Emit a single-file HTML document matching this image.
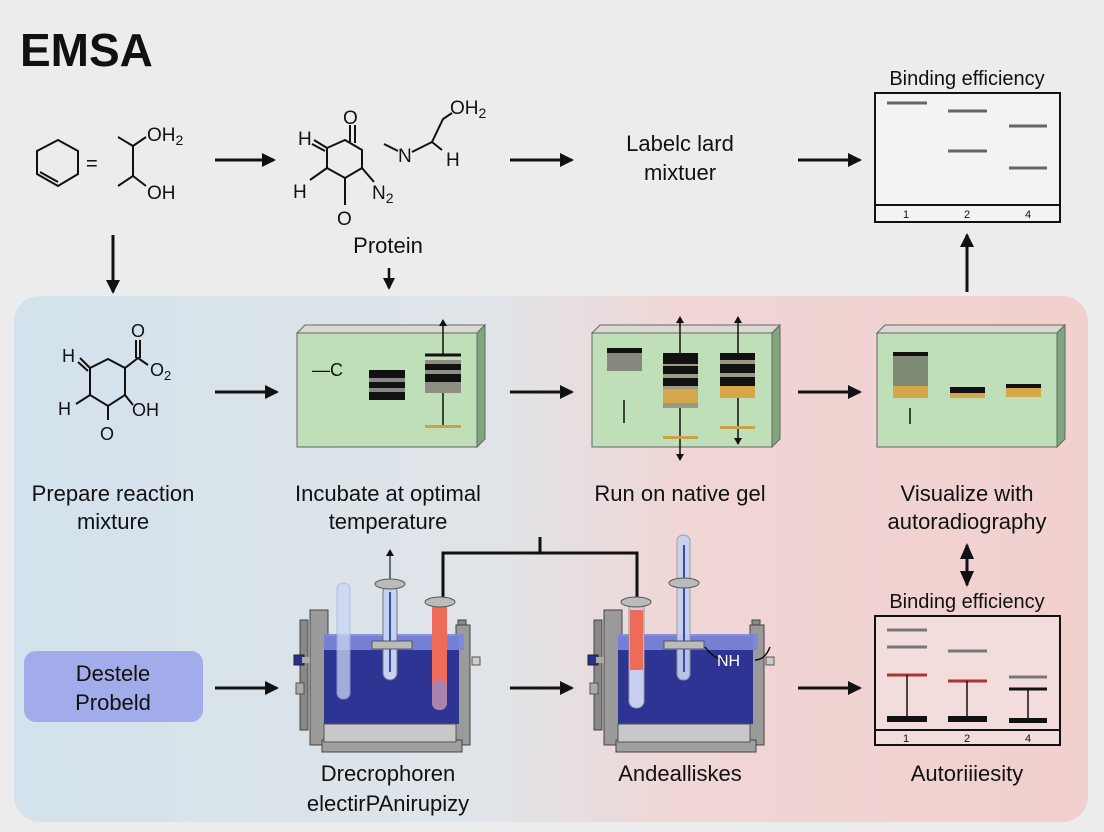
<!DOCTYPE html>
<html><head><meta charset="utf-8"><style>
html,body{margin:0;padding:0;background:#ececec;}
svg{display:block;}
text{font-family:"Liberation Sans Narrow","Liberation Sans",sans-serif;fill:#111;}
</style></head><body>
<svg width="1104" height="832" viewBox="0 0 1104 832" xmlns="http://www.w3.org/2000/svg">
<defs>
<linearGradient id="bg" x1="0" x2="1" y1="0" y2="0">
<stop offset="0" stop-color="#d3e2ec"/><stop offset="0.45" stop-color="#e0e4e8"/><stop offset="0.62" stop-color="#f0d6d5"/><stop offset="1" stop-color="#f1d0ce"/>
</linearGradient>
<marker id="ah" markerWidth="14" markerHeight="14" refX="12" refY="7" orient="auto" markerUnits="userSpaceOnUse"><path d="M0,0 L14,7 L0,14 z" fill="#111"/></marker>
<marker id="ahs" markerWidth="8" markerHeight="8" refX="6" refY="4" orient="auto" markerUnits="userSpaceOnUse"><path d="M0,0 L7,4 L0,8 z" fill="#111"/></marker>
<marker id="ahm" markerWidth="12" markerHeight="12" refX="10" refY="6" orient="auto" markerUnits="userSpaceOnUse"><path d="M0,0 L12,6 L0,12 z" fill="#111"/></marker>
<marker id="ahl" markerWidth="16" markerHeight="14" refX="14" refY="7" orient="auto-start-reverse" markerUnits="userSpaceOnUse"><path d="M0,0 L16,7 L0,14 z" fill="#111"/></marker>
<g id="tank">
<rect x="12" y="20" width="8" height="110" fill="#888" stroke="#444"/>
<rect x="170" y="20" width="8" height="110" fill="#888" stroke="#444"/>
<rect x="22" y="10" width="18" height="135" fill="#9a9a9a" stroke="#444"/>
<rect x="168" y="25" width="14" height="120" fill="#9a9a9a" stroke="#444"/>
<rect x="34" y="140" width="140" height="12" fill="#a0a0a0" stroke="#444"/>
<rect x="36" y="36" width="135" height="88" fill="#2d3494"/>
<rect x="36" y="34" width="140" height="16" fill="#7d88da" opacity="0.9"/>
<rect x="36" y="124" width="132" height="18" fill="#c8c8c8" stroke="#555"/>
<rect x="6" y="55" width="10" height="10" fill="#2a2f8c" stroke="#222"/>
<rect x="14" y="57" width="8" height="6" fill="#aaa"/>
<rect x="8" y="83" width="8" height="11" fill="#aaa" stroke="#555"/>
<rect x="184" y="57" width="8" height="8" fill="#ccc" stroke="#555"/>
</g>
</defs>
<rect width="1104" height="832" fill="#ececec"/>
<text x="20" y="66" font-size="46" font-weight="bold" style="font-family:'Liberation Sans',sans-serif">EMSA</text>

<rect x="14" y="296" width="1074" height="526" rx="26" fill="url(#bg)"/>

<!-- molecule 1 -->
<g stroke="#111" stroke-width="2" fill="none">
<path d="M58,140 L78,151 L78,174 L58,186 L37,174 L37,151 Z"/>
<path d="M40,172 L58,182"/>
<path d="M118,137 L133,146 L146,137 M133,146 L133,176 L118,186 M133,176 L146,186"/>
</g>
<g stroke="#111" stroke-width="3" fill="none">
<path d="M215,160 L274,160" marker-end="url(#ah)"/>
<path d="M113,235 L113,292" marker-end="url(#ah)"/>
<path d="M510,160 L572,160" marker-end="url(#ah)"/>
<path d="M798,160 L860,160" marker-end="url(#ah)"/>
<path d="M967,292 L967,235" marker-end="url(#ah)"/>
<path d="M215,392 L277,392" marker-end="url(#ah)"/>
<path d="M510,392 L572,392" marker-end="url(#ah)"/>
<path d="M798,392 L860,392" marker-end="url(#ah)"/>
<path d="M215,688 L277,688" marker-end="url(#ah)"/>
<path d="M510,688 L572,688" marker-end="url(#ah)"/>
<path d="M798,688 L860,688" marker-end="url(#ah)"/>
</g>
<path d="M389,268 L389,288" stroke="#111" stroke-width="2.5" marker-end="url(#ahm)"/>
<text x="86" y="170" font-size="20">=</text>
<text x="147" y="141" font-size="19" style="font-family:'Liberation Sans',sans-serif">OH<tspan font-size="14" dy="4">2</tspan></text>
<text x="147" y="199" font-size="19" style="font-family:'Liberation Sans',sans-serif">OH</text>

<!-- molecule 2 -->
<g stroke="#111" stroke-width="2" fill="none">
<path d="M327,148 L345,140 L362,150 L362,168 L345,178 L327,168 Z"/>
<path d="M314,140 L327,148 M312,144 L325,151"/>
<path d="M350,125 L350,142 M355,125 L355,143"/>
<path d="M327,168 L310,180 M345,178 L345,205 M362,168 L374,182"/>
<path d="M384,144 L398,151 M412,152 L432,142 L442,150 M432,142 L443,119 L452,113"/>
</g>
<g style="font-family:'Liberation Sans',sans-serif" font-size="19">
<text x="298" y="145">H</text><text x="343" y="124">O</text><text x="293" y="198">H</text>
<text x="337" y="225">O</text><text x="372" y="199">N<tspan font-size="14" dy="4">2</tspan></text>
<text x="398" y="162">N</text><text x="446" y="166">H</text>
<text x="450" y="114">OH<tspan font-size="14" dy="4">2</tspan></text>
</g>
<text x="388" y="253" font-size="22" text-anchor="middle">Protein</text>
<text x="680" y="151" font-size="22" text-anchor="middle">Labelc lard</text>
<text x="680" y="180" font-size="22" text-anchor="middle">mixtuer</text>

<!-- top right gel -->
<text x="967" y="85" font-size="20" text-anchor="middle">Binding efficiency</text>
<rect x="875" y="93" width="185" height="129" fill="#f3f3f3" stroke="#111" stroke-width="2"/>
<line x1="875" y1="205" x2="1060" y2="205" stroke="#111" stroke-width="2"/>
<g stroke="#666" stroke-width="3">
<line x1="887" y1="103" x2="927" y2="103"/><line x1="948" y1="111" x2="987" y2="111"/><line x1="948" y1="151" x2="987" y2="151"/>
<line x1="1009" y1="126" x2="1047" y2="126"/><line x1="1009" y1="168" x2="1047" y2="168"/>
</g>
<g font-size="11" text-anchor="middle"><text x="906" y="218">1</text><text x="967" y="218">2</text><text x="1028" y="218">4</text></g>

<!-- molecule 3 -->
<g stroke="#111" stroke-width="2" fill="none">
<path d="M90,368 L108,359 L125,368 L125,395 L108,406 L90,395 Z"/>
<path d="M80,358 L90,368 M78,362 L88,371"/>
<path d="M125,368 L138,358 L148,365 M136,340 L136,358 M140,340 L140,358"/>
<path d="M90,395 L76,404 M125,395 L133,405 M108,406 L108,420"/>
</g>
<g style="font-family:'Liberation Sans',sans-serif" font-size="18">
<text x="62" y="362">H</text><text x="131" y="337">O</text><text x="150" y="376">O<tspan font-size="13" dy="4">2</tspan></text>
<text x="58" y="415">H</text><text x="132" y="416">OH</text><text x="100" y="440">O</text>
</g>

<!-- gels -->
<g id="g1">
<path d="M297,333 L305,325 L485,325 L477,333 Z" fill="#d9d9d2" stroke="#666"/>
<path d="M477,333 L485,325 L485,439 L477,447 Z" fill="#7fa67c" stroke="#666"/>
<rect x="297" y="333" width="180" height="114" fill="#bfdfb9" stroke="#666"/>
</g>
<use href="#g1" x="295"/><use href="#g1" x="580"/>
<text x="312" y="376" font-size="18" style="font-family:'Liberation Sans',sans-serif">—C</text>
<rect x="369" y="370" width="36" height="30" fill="#111"/><rect x="369" y="378" width="36" height="4" fill="#888"/><rect x="369" y="388" width="36" height="4" fill="#888"/>
<rect x="425" y="360" width="36" height="33" fill="#8e8e84"/>
<rect x="425" y="364" width="36" height="6" fill="#111"/><rect x="425" y="374" width="36" height="8" fill="#111"/>
<line x1="425" y1="355" x2="461" y2="355" stroke="#111" stroke-width="3"/>
<line x1="443" y1="355" x2="443" y2="320" stroke="#111" stroke-width="1.5" marker-end="url(#ahs)"/>
<line x1="443" y1="393" x2="443" y2="426" stroke="#111" stroke-width="1.5"/>
<rect x="425" y="425" width="36" height="3" fill="#c9a24a"/>
<rect x="607" y="348" width="35" height="23" fill="#858a7c"/><rect x="607" y="348" width="35" height="5" fill="#111"/>
<line x1="624" y1="400" x2="624" y2="423" stroke="#111" stroke-width="1.5"/>
<rect x="663" y="353" width="35" height="55" fill="#999985"/>
<rect x="663" y="353" width="35" height="11" fill="#111"/><rect x="663" y="366" width="35" height="8" fill="#111"/><rect x="663" y="378" width="35" height="8" fill="#111"/>
<rect x="663" y="389" width="35" height="14" fill="#d6a64a"/>
<line x1="680" y1="353" x2="680" y2="317" stroke="#111" stroke-width="1.5" marker-end="url(#ahs)"/>
<line x1="680" y1="408" x2="680" y2="460" stroke="#111" stroke-width="1.5" marker-end="url(#ahs)"/>
<rect x="663" y="436" width="35" height="3" fill="#c9a24a"/>
<rect x="720" y="353" width="35" height="45" fill="#999985"/>
<rect x="720" y="353" width="35" height="7" fill="#111"/><rect x="720" y="364" width="35" height="9" fill="#111"/><rect x="720" y="377" width="35" height="10" fill="#111"/>
<rect x="720" y="386" width="35" height="12" fill="#d6a64a"/>
<line x1="738" y1="353" x2="738" y2="317" stroke="#111" stroke-width="1.5" marker-end="url(#ahs)"/>
<line x1="738" y1="398" x2="738" y2="444" stroke="#111" stroke-width="1.5" marker-end="url(#ahs)"/>
<rect x="720" y="426" width="35" height="3" fill="#c9a24a"/>
<rect x="893" y="352" width="35" height="46" fill="#7f8a74"/><rect x="893" y="352" width="35" height="4" fill="#111"/>
<rect x="893" y="386" width="35" height="12" fill="#d6a64a"/>
<line x1="910" y1="408" x2="910" y2="424" stroke="#111" stroke-width="1.5"/>
<rect x="950" y="387" width="35" height="11" fill="#d6a64a"/><rect x="950" y="387" width="35" height="6" fill="#111"/>
<rect x="1006" y="384" width="35" height="13" fill="#d6a64a"/><rect x="1006" y="384" width="35" height="4" fill="#111"/>

<g font-size="22" text-anchor="middle">
<text x="113" y="501">Prepare reaction</text><text x="113" y="529">mixture</text>
<text x="388" y="501">Incubate at optimal</text><text x="388" y="529">temperature</text>
<text x="680" y="501">Run on native gel</text>
<text x="967" y="501">Visualize with</text><text x="967" y="529">autoradiography</text>
</g>
<line x1="967" y1="545" x2="967" y2="585" stroke="#111" stroke-width="3" marker-end="url(#ahl)" marker-start="url(#ahl)"/>

<rect x="24" y="651" width="179" height="71" rx="12" fill="#a3acea"/>
<text x="113" y="681" font-size="22" text-anchor="middle">Destele</text>
<text x="113" y="710" font-size="22" text-anchor="middle">Probeld</text>
<path d="M443,600 L443,553 L637,553 L637,598 M540,553 L540,537" stroke="#111" stroke-width="3" fill="none"/>
<use href="#tank" x="288" y="600"/>
<use href="#tank" x="582" y="600"/>
<rect x="337" y="583" width="13" height="116" rx="6" fill="#c9d6f2" opacity="0.75" stroke="#9fb0dd"/>
<line x1="390" y1="583" x2="390" y2="550" stroke="#222" stroke-width="1.2" marker-end="url(#ahs)"/>
<rect x="383" y="585" width="14" height="95" rx="7" fill="#c5d2f0" stroke="#777"/>
<line x1="390" y1="592" x2="390" y2="672" stroke="#3b4bb0" stroke-width="2"/>
<ellipse cx="390" cy="584" rx="15" ry="5" fill="#bbb" stroke="#555"/>
<rect x="372" y="641" width="40" height="8" fill="#bbb" stroke="#555"/>
<rect x="432" y="602" width="15" height="108" rx="7" fill="#ee6b5a"/>
<rect x="432" y="680" width="15" height="30" rx="7" fill="#8f8fd0" opacity="0.7"/>
<ellipse cx="440" cy="602" rx="15" ry="5" fill="#bbb" stroke="#555"/>
<rect x="629" y="602" width="15" height="106" rx="7" fill="#c7cff0" stroke="#999"/>
<rect x="630" y="610" width="13" height="60" fill="#ee6b5a"/>
<ellipse cx="636" cy="602" rx="15" ry="5" fill="#bbb" stroke="#555"/>
<rect x="677" y="535" width="13" height="145" rx="6" fill="#c5d2f0" stroke="#999" opacity="0.9"/>
<line x1="684" y1="545" x2="684" y2="672" stroke="#3b4bb0" stroke-width="2"/>
<ellipse cx="684" cy="583" rx="15" ry="5" fill="#bbb" stroke="#555"/>
<rect x="664" y="641" width="40" height="8" fill="#bbb" stroke="#555"/>
<path d="M705,647 Q715,660 725,660 M755,660 Q765,660 770,647" stroke="#111" fill="none" stroke-width="1.5"/>
<text x="717" y="666" font-size="16" style="fill:#fff">NH</text>

<text x="967" y="608" font-size="20" text-anchor="middle">Binding efficiency</text>
<rect x="875" y="616" width="185" height="129" fill="#f3dcdc" stroke="#111" stroke-width="2"/>
<line x1="875" y1="730" x2="1060" y2="730" stroke="#111" stroke-width="2"/>
<g stroke="#777" stroke-width="3">
<line x1="887" y1="630" x2="927" y2="630"/><line x1="887" y1="647" x2="927" y2="647"/>
<line x1="948" y1="651" x2="987" y2="651"/><line x1="1009" y1="677" x2="1047" y2="677"/>
</g>
<g stroke="#a33" stroke-width="3"><line x1="887" y1="675" x2="927" y2="675"/><line x1="948" y1="681" x2="987" y2="681"/></g>
<line x1="1009" y1="689" x2="1047" y2="689" stroke="#111" stroke-width="3"/>
<g stroke="#111" stroke-width="1.5"><line x1="907" y1="675" x2="907" y2="718"/><line x1="967" y1="681" x2="967" y2="718"/><line x1="1028" y1="689" x2="1028" y2="720"/></g>
<g fill="#111"><rect x="887" y="716" width="40" height="6"/><rect x="948" y="716" width="39" height="6"/><rect x="1009" y="718" width="38" height="5"/></g>
<g font-size="11" text-anchor="middle"><text x="906" y="742">1</text><text x="967" y="742">2</text><text x="1028" y="742">4</text></g>

<g font-size="22" text-anchor="middle">
<text x="388" y="781">Drecrophoren</text><text x="388" y="811">electirPAnirupizy</text>
<text x="680" y="781">Andealliskes</text>
<text x="967" y="781">Autoriiiesity</text>
</g>
</svg>
</body></html>
